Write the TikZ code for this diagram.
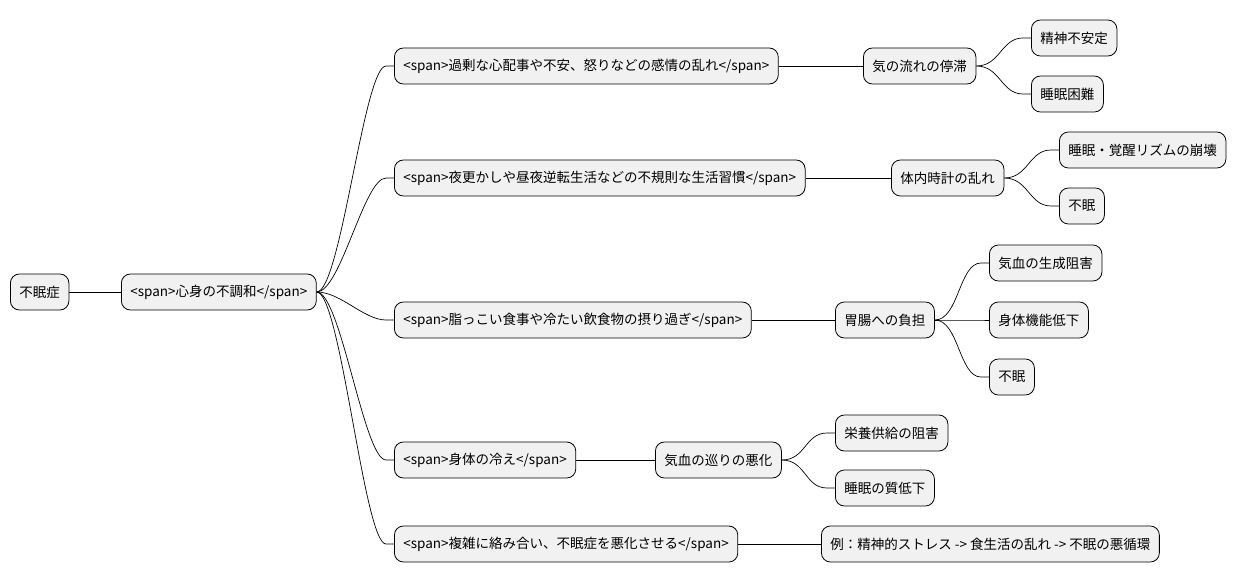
\documentclass[tikz,border=0pt]{standalone}
\usepackage{fontspec}
\setmainfont{Noto Sans CJK JP}
\begin{document}
\begin{tikzpicture}[x=1pt,y=-1pt,
  box/.style={draw=black,line width=0.8pt,fill={rgb,255:red,241;green,241;blue,241},rounded corners=9pt,minimum height=36pt,inner xsep=9pt,anchor=west,font=\fontsize{13.5pt}{16pt}\selectfont},
  con/.style={draw=black,line width=0.7pt}]
\useasboundingbox (0,0) rectangle (1244,583);
\node[box] (r) at (10,292) {不眠症};
\node[box] (m) at (121,292) {<span>心身の不調和</span>};
\node[box] (a) at (394,66) {<span>過剰な心配事や不安、怒りなどの感情の乱れ</span>};
\node[box] (b) at (394,178) {<span>夜更かしや昼夜逆転生活などの不規則な生活習慣</span>};
\node[box] (c) at (394,320) {<span>脂っこい食事や冷たい飲食物の摂り過ぎ</span>};
\node[box] (d) at (394,460) {<span>身体の冷え</span>};
\node[box] (e) at (394,544) {<span>複雑に絡み合い、不眠症を悪化させる</span>};
\node[box] (a1) at (863,66) {気の流れの停滞};
\node[box] (b1) at (891,178) {体内時計の乱れ};
\node[box] (c1) at (835,320) {胃腸への負担};
\node[box] (d1) at (655,460) {気血の巡りの悪化};
\node[box] (e1) at (821,544) {例：精神的ストレス -> 食生活の乱れ -> 不眠の悪循環};
\node[box] (a11) at (1031,38) {精神不安定};
\node[box] (a12) at (1031,94) {睡眠困難};
\node[box] (b11) at (1059,150) {睡眠・覚醒リズムの崩壊};
\node[box] (b12) at (1059,206) {不眠};
\node[box] (c11) at (989,263) {気血の生成阻害};
\node[box] (c12) at (989,320) {身体機能低下};
\node[box] (c13) at (989,377) {不眠};
\node[box] (d11) at (835,433) {栄養供給の阻害};
\node[box] (d12) at (835,488) {睡眠の質低下};
\draw[con] (r.east) -- (m.west);
\foreach \p/\c in {m/a,m/b,m/c,m/d,m/e,a1/a11,a1/a12,b1/b11,b1/b12,c1/c11,c1/c12,c1/c13,d1/d11,d1/d12}
  \draw[con] (\p.east) .. controls ([xshift=24pt]\p.east) and ([xshift=-30pt]\c.west) .. ([xshift=-8pt]\c.west) -- (\c.west);
\foreach \p/\c in {a/a1,b/b1,c/c1,d/d1,e/e1}
  \draw[con] (\p.east) -- (\c.west);
\end{tikzpicture}
\end{document}
